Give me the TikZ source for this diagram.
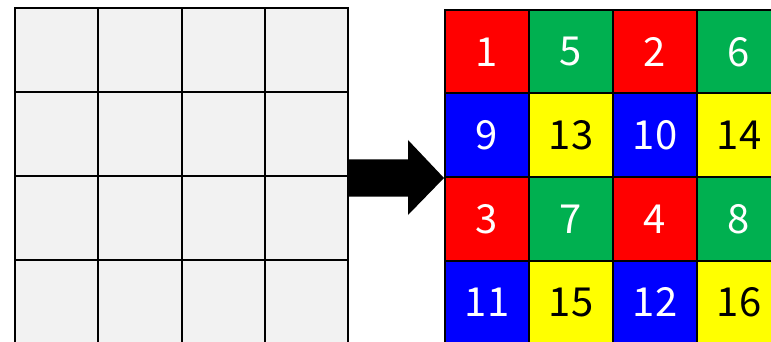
\documentclass[tikz,border=0pt]{standalone}
\usepackage{fontspec}
\setmainfont{Noto Sans CJK JP}
\usetikzlibrary{positioning, calc}
\definecolor{cellgray}{HTML}{F2F2F2}
\definecolor{cellred}{HTML}{FF0000}
\definecolor{cellgreen}{HTML}{00B050}
\definecolor{cellblue}{HTML}{0000FF}
\definecolor{cellyellow}{HTML}{FFFF00}

\begin{document}
\begin{tikzpicture}[
		x=1pt, y=-1pt,
		% --- Styles ---
		gridcell/.style={
			rectangle, draw=black, line width=2pt, inner sep=0pt,
			font=\fontsize{40}{44}\selectfont
		},
		blankcell/.style={gridcell, fill=cellgray, minimum width=83.25pt, minimum height=84pt},
		colorcell/.style={gridcell, minimum width=84pt, minimum height=83.5pt},
		redcell/.style={colorcell, fill=cellred, text=white},
		greencell/.style={colorcell, fill=cellgreen, text=white},
		bluecell/.style={colorcell, fill=cellblue, text=white},
		yellowcell/.style={colorcell, fill=cellyellow, text=black},
		blockarrow/.style={fill=black, draw=none}
		]
		
		\useasboundingbox (0,0) rectangle (771,342);
		
		\begin{scope}
			\clip (0,0) rectangle (771,342);
			
			% --- 1. Input grid (left) ---
			\foreach \r in {0,...,3}{
				\foreach \c in {0,...,3}{
					\node [blankcell] (L-\r-\c) at ({15+83.25*(\c+0.5)}, {8+84*(\r+0.5)}) {};
				}
			}
			
			% --- 2. Output grid (right) ---
			\foreach \r/\c/\num/\kind in {
				0/0/1/red, 0/1/5/green, 0/2/2/red, 0/3/6/green,
				1/0/9/blue, 1/1/13/yellow, 1/2/10/blue, 1/3/14/yellow,
				2/0/3/red, 2/1/7/green, 2/2/4/red, 2/3/8/green,
				3/0/11/blue, 3/1/15/yellow, 3/2/12/blue, 3/3/16/yellow}{
				\node [\kind cell] (R-\r-\c) at ({445+84*(\c+0.5)}, {10+83.5*(\r+0.5)}) {\num};
			}
		\end{scope}
		
		% --- 3. Block arrow between the grids ---
		\coordinate (arrow_tip) at (R-1-0.south west);
		\coordinate (arrow_start) at (L-1-3.east |- arrow_tip);
		\fill [blockarrow]
		($(arrow_start)+(0,-18.5)$) -- ($(arrow_tip)+(-36,-18.5)$) -- ($(arrow_tip)+(-36,-38)$)
		-- (arrow_tip)
		-- ($(arrow_tip)+(-36,37)$) -- ($(arrow_tip)+(-36,18.5)$) -- ($(arrow_start)+(0,18.5)$) -- cycle;
		
	\end{tikzpicture}
\end{document}
